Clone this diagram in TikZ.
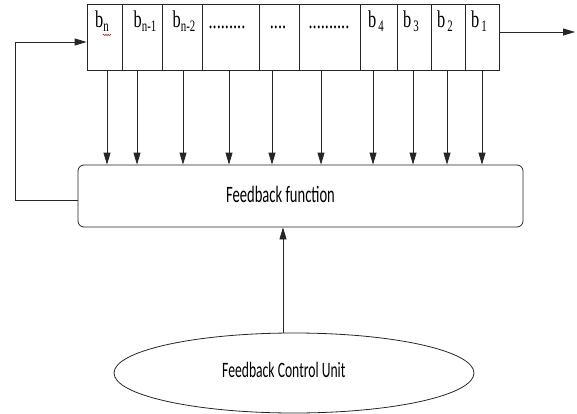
\documentclass[tikz,border=0pt]{standalone}
\usepackage{fontspec}
\usetikzlibrary{arrows.meta,decorations.pathmorphing,shapes.geometric}
\newfontfamily\regfont[FakeStretch=0.68]{Liberation Serif}
\newfontfamily\boxfont[FakeStretch=0.62]{Carlito}
% register bit label: b with a lowered, smaller index
\newcommand{\bitlbl}[2]{b\kern#2\raisebox{-4pt}{\fontsize{16}{16}\selectfont #1}}
\tikzset{
  line/.style={draw=black!85, line width=0.8pt},
  arr/.style={line, -{Triangle[length=12pt,width=7pt]}},
  cell/.style={line, rectangle, minimum height=66pt, inner sep=0pt},
  lbl/.style={font=\regfont\fontsize{24}{24}\selectfont, anchor=base, inner sep=0pt},
  boxlbl/.style={font=\boxfont\fontsize{22}{22}\selectfont, inner sep=0pt, anchor=base west},
}
\begin{document}
\begin{tikzpicture}[x=1pt, y=-1pt]
  \useasboundingbox (0,0) rectangle (577,414);

  % shift register cells
  \node[cell, minimum width=35pt] (c1)  at (104.5,37) {};
  \node[cell, minimum width=40pt] (c2)  at (142,37)   {};
  \node[cell, minimum width=40pt] (c3)  at (182,37)   {};
  \node[cell, minimum width=57pt] (c4)  at (230.5,37) {};
  \node[cell, minimum width=40pt] (c5)  at (279,37)   {};
  \node[cell, minimum width=61pt] (c6)  at (329.5,37) {};
  \node[cell, minimum width=37pt] (c7)  at (378.5,37) {};
  \node[cell, minimum width=34pt] (c8)  at (414,37)   {};
  \node[cell, minimum width=34pt] (c9)  at (448,37)   {};
  \node[cell, minimum width=34pt] (c10) at (482,37)   {};

  % cell labels
  \node[lbl] (l1)  at (102,28)   {\bitlbl{n}{0pt}};
  \node[lbl] (l2)  at (145,28)   {\bitlbl{n-1}{0pt}};
  \node[lbl] (l3)  at (184,28)   {\bitlbl{n-2}{0pt}};
  \node[lbl] (l4)  at (227,29)   {.........};
  \node[lbl] (l5)  at (278,29)   {....};
  \node[lbl] (l6)  at (329,29)   {..........};
  \node[lbl] (l7)  at (376,28)   {\bitlbl{4}{2pt}};
  \node[lbl] (l8)  at (411,28)   {\bitlbl{3}{2pt}};
  \node[lbl] (l9)  at (445,28)   {\bitlbl{2}{2pt}};
  \node[lbl] (l10) at (479,28)   {\bitlbl{1}{2pt}};
  % spell-check squiggle under the first index
  \draw[red!80!black, line width=0.5pt, decorate,
        decoration={snake, amplitude=0.7pt, segment length=2.2pt}]
    (103,35) -- (111,35);

  % feedback function block
  \node[line, rectangle, rounded corners=6pt, minimum width=445pt,
        minimum height=62pt, inner sep=0pt] (fb) at (300.5,196) {};
  \node[boxlbl, font=\boxfont\fontsize{23.5}{23.5}\selectfont] (fbt)
    at (226,202) {Feedback function};

  % feedback control unit
  \node[line, ellipse, minimum width=360pt, minimum height=80pt,
        inner sep=0pt] (fcu) at (294,373) {};
  \node[boxlbl] (fcut) at (222,377) {Feedback Control Unit};

  % taps from the register into the feedback function
  \foreach \c/\x in {c1/107, c2/137, c3/183, c4/229, c5/272,
                     c6/321, c7/373, c8/413, c9/447, c10/482}
    \draw[arr] (\c.south -| \x,0) -- (fb.north -| \x,0);

  % control input
  \draw[arr] (fcu.north -| 283,0) -- (fb.south -| 283,0);

  % feedback loop back into the first cell
  \coordinate (loopA) at (15,200);
  \coordinate (loopB) at (15,42);
  \draw[arr] (fb.west |- loopA) -- (loopA) -- (loopB) -- (loopB -| c1.west);

  % serial output
  \coordinate (out) at (575,32);
  \draw[arr] (c10.east |- out) -- (out);
\end{tikzpicture}
\end{document}
